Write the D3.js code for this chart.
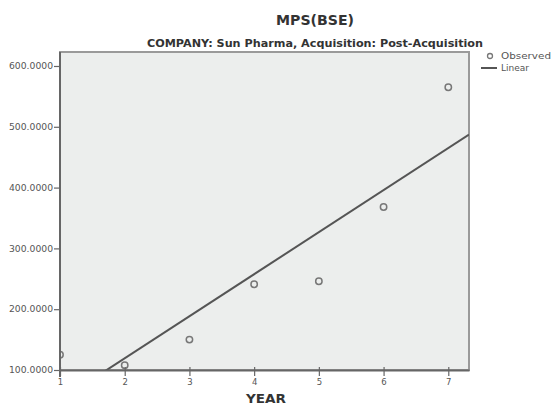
<!DOCTYPE html>
<html><head><meta charset="utf-8">
<script src="https://cdn.jsdelivr.net/npm/d3@7"></script>
<style>body{margin:0;background:#fff}svg{display:block;font-family:"DejaVu Sans","Liberation Sans",Arial,sans-serif}</style>
</head><body><svg id="c" width="551" height="410"></svg>
<script>
const years = [1, 2, 3, 4, 5, 6, 7];
const mps = [125, 108, 150, 241, 246, 368, 565];
const yTicks = [100, 200, 300, 400, 500, 600];
const xTicks = [1, 2, 3, 4, 5, 6, 7];
const title = "MPS(BSE)";
const subtitle = "COMPANY: Sun Pharma, Acquisition: Post-Acquisition";
const legendLabels = ["Observed", "Linear"];

const svg = d3.select("#c");
const L = 60, R = 469, T = 52, B = 370;
const x = d3.scaleLinear().domain([1, 7.32]).range([L, R]);
const y = d3.scaleLinear().domain([100, 623]).range([B, T]);

svg.append("defs").append("clipPath").attr("id", "pc")
  .append("rect").attr("x", L).attr("y", T).attr("width", R - L).attr("height", B - T);

svg.append("rect").attr("x", L).attr("y", T).attr("width", R - L).attr("height", B - T)
  .attr("fill", "#eceeed").attr("stroke", "#9a9a9a").attr("stroke-width", 2);

// regression (least squares)
const mx = d3.mean(years), my = d3.mean(mps);
const slope = d3.sum(years, (v, i) => (v - mx) * (mps[i] - my)) / d3.sum(years, v => (v - mx) ** 2);
const icpt = my - slope * mx;
const xs = x.domain();
svg.append("line").attr("clip-path", "url(#pc)")
  .attr("x1", x(xs[0])).attr("y1", y(icpt + slope * xs[0]))
  .attr("x2", x(xs[1])).attr("y2", y(icpt + slope * xs[1]))
  .attr("stroke", "#555").attr("stroke-width", 2);

svg.append("g").attr("clip-path", "url(#pc)").selectAll("circle").data(years).join("circle")
  .attr("cx", d => x(d)).attr("cy", (d, i) => y(mps[i])).attr("r", 3.2)
  .attr("fill", "none").attr("stroke", "#777").attr("stroke-width", 1.5);

// axes
const ya = svg.append("g").attr("transform", `translate(${L},0)`)
  .call(d3.axisLeft(y).tickValues(yTicks).tickFormat(d3.format(".4f")).tickSize(6).tickSizeOuter(0));
const xa = svg.append("g").attr("transform", `translate(0,${B})`)
  .call(d3.axisBottom(x).tickValues(xTicks).tickFormat(d3.format("d")).tickSize(6).tickSizeOuter(0));
[ya, xa].forEach(a => {
  a.attr("font-family", null);
  a.select(".domain").attr("stroke", "#666").attr("stroke-width", 2);
  a.selectAll(".tick line").attr("stroke", "#666").attr("stroke-width", 1.2);
  a.selectAll("text").attr("fill", "#555").attr("font-size", 8.5);
});
ya.selectAll("text").attr("x", -7).attr("textLength", 44).attr("lengthAdjust", "spacingAndGlyphs");
xa.selectAll(".tick line").attr("y1", -3);
xa.selectAll("text").attr("y", 9);
ya.select(".domain").attr("d", `M0,${T}V${B + 7}`);

svg.append("text").attr("x", 315).attr("y", 25).attr("text-anchor", "middle")
  .attr("font-weight", "bold").attr("font-size", 13.5).attr("fill", "#333")
  .attr("textLength", 78).attr("lengthAdjust", "spacingAndGlyphs").text(title);
svg.append("text").attr("x", 315).attr("y", 47).attr("text-anchor", "middle")
  .attr("font-weight", "bold").attr("font-size", 10.5).attr("fill", "#333")
  .attr("textLength", 336).attr("lengthAdjust", "spacingAndGlyphs").text(subtitle);
svg.append("text").attr("x", 266).attr("y", 403).attr("text-anchor", "middle")
  .attr("font-weight", "bold").attr("font-size", 12).attr("fill", "#333")
  .attr("textLength", 40).attr("lengthAdjust", "spacingAndGlyphs").text("YEAR");

// legend
const lg = svg.append("g");
lg.append("circle").attr("cx", 490).attr("cy", 56).attr("r", 2.5).attr("fill", "none")
  .attr("stroke", "#777").attr("stroke-width", 1.3);
lg.append("line").attr("x1", 481).attr("x2", 497).attr("y1", 68).attr("y2", 68)
  .attr("stroke", "#555").attr("stroke-width", 2);
lg.selectAll("text").data(legendLabels).join("text")
  .attr("x", 501).attr("y", (d, i) => 59 + i * 12).attr("font-size", 8.5).attr("fill", "#555")
  .attr("textLength", (d, i) => i === 0 ? 50 : 28).attr("lengthAdjust", "spacingAndGlyphs").text(d => d);
</script></body></html>
